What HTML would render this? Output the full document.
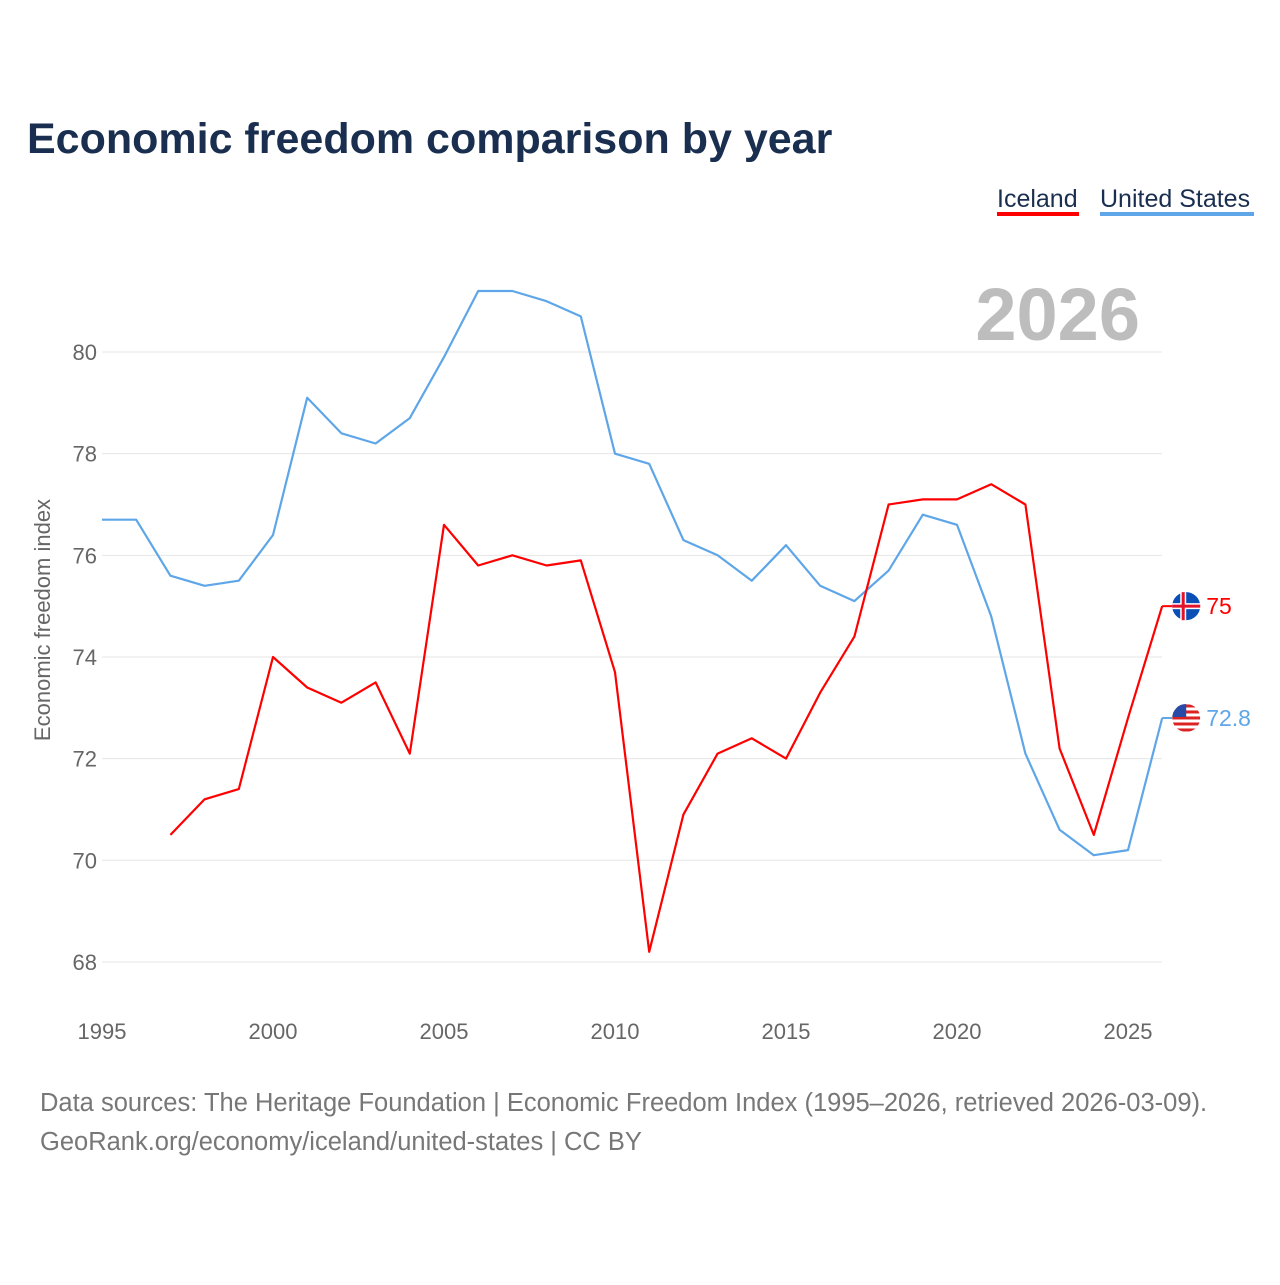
<!DOCTYPE html>
<html><head><meta charset="utf-8"><style>
body{margin:0;background:#fff;font-family:"Liberation Sans",sans-serif}
svg text{font-family:"Liberation Sans",sans-serif}
</style></head><body>
<svg width="1280" height="1280" viewBox="0 0 1280 1280">
<defs><clipPath id="usclip"><circle id="usc" cx="0" cy="0" r="14"/></clipPath></defs>
<text x="27" y="153" font-size="43" font-weight="bold" fill="#1a2e4f">Economic freedom comparison by year</text>
<g>
<text x="997" y="207" font-size="25" fill="#1a2e4f">Iceland</text>
<rect x="997" y="212" width="82" height="4" fill="#ff0000"/>
<text x="1100" y="207" font-size="25" fill="#1a2e4f">United States</text>
<rect x="1100" y="212" width="154" height="4" fill="#5ea6e8"/>
</g>
<text x="1140" y="340" font-size="74" font-weight="bold" fill="#bdbdbd" text-anchor="end">2026</text>
<g id="grid"></g>
<g id="xt"></g>
<text transform="translate(50,620) rotate(-90)" font-size="22" fill="#666" text-anchor="middle">Economic freedom index</text>
<g id="series"></g>
<text x="40" y="1111" font-size="25.5" fill="#777">Data sources: The Heritage Foundation | Economic Freedom Index (1995–2026, retrieved 2026-03-09).</text>
<text x="40" y="1150" font-size="25.5" fill="#777">GeoRank.org/economy/iceland/united-states | CC BY</text>
</svg>
<script>
const years=[1995,1996,1997,1998,1999,2000,2001,2002,2003,2004,2005,2006,2007,2008,2009,2010,2011,2012,2013,2014,2015,2016,2017,2018,2019,2020,2021,2022,2023,2024,2025,2026];
const usValues=[76.7,76.7,75.6,75.4,75.5,76.4,79.1,78.4,78.2,78.7,79.9,81.2,81.2,81.0,80.7,78.0,77.8,76.3,76.0,75.5,76.2,75.4,75.1,75.7,76.8,76.6,74.8,72.1,70.6,70.1,70.2,72.8];
const icelandValues=[null,null,70.5,71.2,71.4,74.0,73.4,73.1,73.5,72.1,76.6,75.8,76.0,75.8,75.9,73.7,68.2,70.9,72.1,72.4,72.0,73.3,74.4,77.0,77.1,77.1,77.4,77.0,72.2,70.5,72.8,75.0];
const yTicks=[68,70,72,74,76,78,80];
const xTicks=[1995,2000,2005,2010,2015,2020,2025];
const NS="http://www.w3.org/2000/svg";
const X=y=>102+(y-1995)*34.2;
const Y=v=>352+(80-v)*50.83;
function mk(t,a,p){const e=document.createElementNS(NS,t);for(const k in a)e.setAttribute(k,a[k]);p.appendChild(e);return e;}
const grid=document.getElementById('grid');
yTicks.forEach(v=>{
 const l=mk('line',{x1:102,x2:1162,y1:Y(v),y2:Y(v),stroke:'#e6e6e6','stroke-width':1},grid);
 
 
 const t=mk('text',{x:97,y:Y(v)+8,'font-size':22,fill:'#666','text-anchor':'end'},grid);
 t.textContent=v;
 
 
});
const xt=document.getElementById('xt');
xTicks.forEach(y=>{
 const t=mk('text',{x:X(y),y:1039,'font-size':22,fill:'#666','text-anchor':'middle'},xt);
 t.textContent=y;
 
 
});
const sg=document.getElementById('series');
function line(vals,color,name){
 let d='';vals.forEach((v,i)=>{if(v==null)return;d+=(d?'L':'M')+X(years[i]).toFixed(1)+','+Y(v).toFixed(1);});
 const p=mk('path',{d:d,fill:'none',stroke:color,'stroke-width':2.2,'stroke-linejoin':'round'},sg);
 
 
 const last=vals[vals.length-1],cx=X(years[years.length-1])+24,cy=Y(last);
 mk('line',{x1:X(years[years.length-1]),x2:cx-14,y1:cy,y2:cy,stroke:color,'stroke-width':2},sg);
 if(name==='iceland'){
  const c=mk('circle',{cx:cx,cy:cy,r:14,fill:'#0a4fb5'},sg);
  
  
  mk('rect',{x:cx-14,y:cy-3,width:28,height:6,fill:'#fff'},sg);mk('rect',{x:cx-6,y:cy-14,width:6,height:28,fill:'#fff'},sg);mk('rect',{x:cx-14,y:cy-1.5,width:28,height:3,fill:'#e3122b'},sg);mk('rect',{x:cx-4.5,y:cy-14,width:3,height:28,fill:'#e3122b'},sg);
 } else {
  const uc=document.getElementById('usc');uc.setAttribute('cx',cx);uc.setAttribute('cy',cy);
  const g=mk('g',{'clip-path':'url(#usclip)'},sg);
  
  
  mk('rect',{x:cx-14,y:cy-14,width:28,height:28,fill:'#fff'},g);
  for(let k=-12;k<=12;k+=6)mk('rect',{x:cx-14,y:cy+k-1.5,width:28,height:3,fill:'#d22'},g);
  mk('rect',{x:cx-14,y:cy-14,width:14,height:13,fill:'#2a4aa8'},g);
 }
 const t=mk('text',{x:cx+20,y:cy+8,'font-size':23,fill:color},sg);
 t.textContent=last;
 
 
}
line(usValues,'#5ea6e8','united-states');
line(icelandValues,'#ff0000','iceland');
</script>
</body></html>
